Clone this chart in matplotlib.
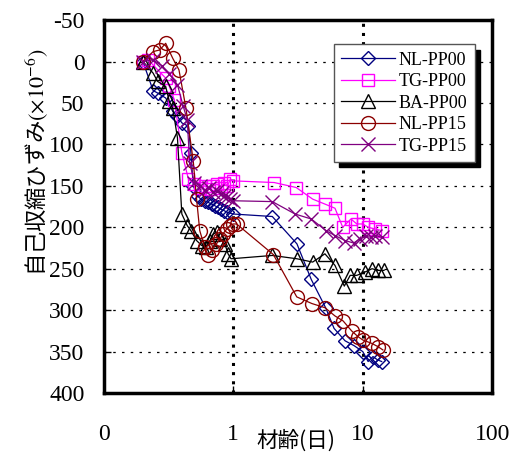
import matplotlib
matplotlib.use("Agg")
import matplotlib.pyplot as plt
from matplotlib.ticker import FixedLocator, FixedFormatter

plt.rcParams['mathtext.fontset'] = 'stix'
plt.rcParams['axes.unicode_minus'] = False

# ---- data (age in days, autogenous shrinkage x1e-6) ----
nl00_t = [0.2, 0.24, 0.26, 0.3, 0.34, 0.37, 0.4, 0.45, 0.47, 0.49, 0.53, 0.56, 0.6, 0.64, 0.68,
          0.72, 0.76, 0.8, 0.85, 0.9, 1.0, 2.0, 3.1, 4.0, 5.2, 6.0, 7.3, 8.6, 10, 11, 12, 13, 14]
nl00_s = [0, 35, 38, 44, 60, 66, 74, 78, 110, 150, 162, 166, 168, 170, 172,
          174, 176, 178, 180, 182, 184, 187, 220, 263, 298, 322, 337, 343, 350, 362, 356, 360, 362]

tg00_t = [0.2, 0.22, 0.3, 0.32, 0.35, 0.4, 0.45, 0.5, 0.55, 0.6, 0.65, 0.7, 0.75, 0.8, 0.85,
          0.9, 0.95, 1.0, 2.07, 3.06, 4.1, 5.1, 6.1, 7.0, 8.1, 9.0, 10, 11, 12.4, 14]
tg00_s = [0, -2, 20, 30, 46, 110, 142, 148, 152, 150, 154, 150, 148, 152, 146,
          150, 142, 144, 146, 152, 166, 172, 177, 200, 190, 196, 196, 200, 202, 204]

ba00_t = [0.2, 0.24, 0.26, 0.3, 0.32, 0.34, 0.37, 0.4, 0.44, 0.47, 0.52, 0.57, 0.61, 0.66, 0.7,
          0.75, 0.79, 0.86, 0.91, 0.96, 2.0, 3.1, 4.1, 5.1, 6.1, 7.2, 8.0, 9.0, 10.4, 11.8, 13.1, 14.6]
ba00_s = [0, 14, 24, 30, 48, 56, 92, 184, 198, 204, 216, 222, 224, 216, 208,
          206, 214, 220, 232, 238, 234, 238, 242, 232, 246, 271, 258, 258, 254, 250, 252, 252]

nl15_t = [0.2, 0.24, 0.27, 0.3, 0.34, 0.38, 0.43, 0.49, 0.52, 0.55, 0.6, 0.64, 0.68, 0.74, 0.79,
          0.83, 0.89, 0.94, 1.0, 1.06, 2.04, 3.09, 4.04, 5.1, 6.1, 7.05, 8.2, 9.2, 10, 11.7, 13.1, 14.3]
nl15_s = [0, -12, -14, -22, -4, 10, 56, 120, 166, 204, 224, 234, 228, 220, 214,
          208, 202, 198, 196, 196, 233, 284, 292, 297, 307, 313, 325, 332, 336, 340, 344, 348]

tg15_t = [0.2, 0.24, 0.28, 0.32, 0.37, 0.41, 0.44, 0.46, 0.5, 0.55, 0.6, 0.65, 0.7, 0.75, 0.8,
          0.85, 0.9, 0.95, 1.0, 2.0, 3.0, 4.0, 5.2, 6.1, 7.3, 8.5, 9.5, 10.5, 11.5, 12.5, 14]
tg15_s = [0, -2, 5, 15, 28, 54, 70, 122, 146, 150, 155, 152, 158, 156, 160,
          162, 164, 166, 168, 169, 184, 190, 204, 210, 216, 219, 214, 211, 212, 210, 212]

series_names = ["NL-PP00", "TG-PP00", "BA-PP00", "NL-PP15", "TG-PP15"]
x_ticks = [0.1, 1, 10, 100]
x_tick_labels = ["0", "1", "10", "100"]
y_ticks = [-50, 0, 50, 100, 150, 200, 250, 300, 350, 400]

fig = plt.figure(figsize=(5.17, 4.57), dpi=100)
ax = fig.add_axes([0.201, 0.140, 0.751, 0.816])

styles = [
    dict(color="#000080", marker="D", ms=7),
    dict(color="#FF00FF", marker="s", ms=9),
    dict(color="#000000", marker="^", ms=10),
    dict(color="#8B0000", marker="o", ms=10),
    dict(color="#800080", marker="x", ms=10),
]
data = [(nl00_t, nl00_s), (tg00_t, tg00_s), (ba00_t, ba00_s), (nl15_t, nl15_s), (tg15_t, tg15_s)]

for (t, s), name, st in zip(data, series_names, styles):
    ax.plot(t, s, color=st["color"], lw=0.9, marker=st["marker"], ms=st["ms"],
            mfc="none", mec=st["color"], mew=1.0, label=name, zorder=3)

ax.set_xscale("log")
ax.set_xlim(0.1, 100)
ax.set_ylim(400, -50)

ax.xaxis.set_major_locator(FixedLocator(x_ticks))
ax.xaxis.set_major_formatter(FixedFormatter(x_tick_labels))
ax.xaxis.set_minor_locator(FixedLocator([]))
ax.set_yticks(y_ticks)

for yv in y_ticks[1:-1]:
    ax.axhline(yv, color="black", lw=0.9, ls=(0, (2, 5)), zorder=1)
for xv in [1, 10]:
    ax.axvline(xv, color="black", lw=2.2, ls=(0, (1, 2)), zorder=1)

for sp in ax.spines.values():
    sp.set_linewidth(2.5)

serif = "Liberation Serif"
ax.tick_params(axis="both", direction="in", length=5, width=1, labelsize=17)
ax.tick_params(axis="y", pad=14)
ax.tick_params(axis="x", pad=22)
for lab in ax.get_xticklabels() + ax.get_yticklabels():
    lab.set_fontfamily(serif)

ax.set_xlabel("材齢(日)", family=["Noto Sans CJK JP"], fontsize=15.5)
ax.xaxis.label.set_va("center")
ax.xaxis.set_label_coords(0.495, -0.128)
ax.set_ylabel("自己収縮ひずみ$(\\times 10^{-6})$", family=["Noto Sans CJK JP"], fontsize=16)
ax.yaxis.label.set_va("center")
ax.yaxis.set_label_coords(-0.173, 0.62)

leg = ax.legend(loc="upper right", bbox_to_anchor=(0.955, 0.935), frameon=True,
                fancybox=False, prop={"family": serif, "size": 13},
                shadow={"color": "black", "alpha": 1, "ox": 4, "oy": -4},
                handlelength=3.0, handletextpad=0.2, labelspacing=0.25,
                borderpad=0.4, borderaxespad=0)
leg.get_frame().set_edgecolor("#555555")
leg.get_frame().set_linewidth(1.0)
leg.set_zorder(5)

fig.savefig("out.png", dpi=100)
